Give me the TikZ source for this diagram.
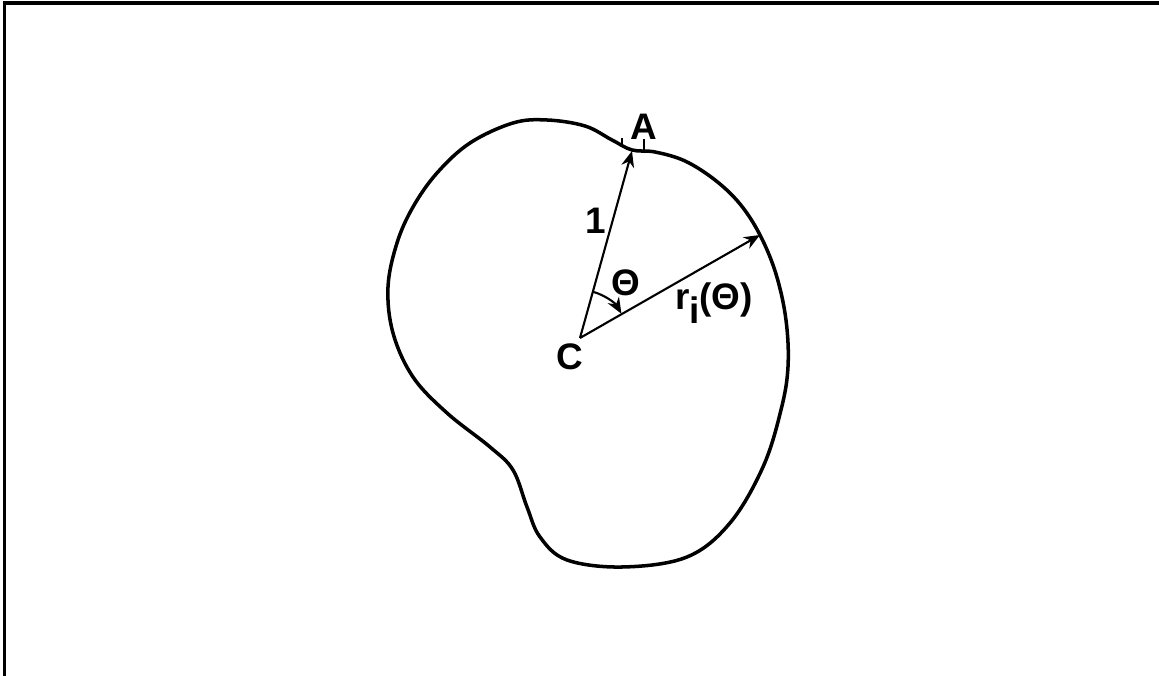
\documentclass[tikz,border=0pt]{standalone}
\usepackage{fontspec}
\setmainfont{Liberation Sans}
\usetikzlibrary{arrows.meta}

\begin{document}
\begin{tikzpicture}[x=1cm,y=1cm,line width=.6pt,font=\fontsize{10.5}{12}\selectfont\bfseries,
  lbl/.style={inner sep=1pt},
  radius arrow/.style={-{Stealth[length=1.6mm,width=1.3mm]}}]
\useasboundingbox (0,0) rectangle (11.59,6.76);
\draw[line width=1pt] (0.045,0)--(0.045,6.73)--(11.59,6.73);
% outline of the body
\draw[line width=1pt] plot[smooth cycle,tension=0.6] coordinates {
  (5.47,5.56) (5.85,5.50) (6.12,5.36) (6.32,5.26) (6.55,5.24) (6.85,5.15)
  (7.15,4.96) (7.40,4.72) (7.60,4.41) (7.76,4.02) (7.86,3.56) (7.88,3.09)
  (7.81,2.66) (7.63,2.09) (7.30,1.53) (6.87,1.19) (6.23,1.09) (5.67,1.16)
  (5.40,1.39) (5.27,1.69) (5.13,2.06) (4.90,2.29) (4.47,2.63) (4.13,2.99)
  (3.93,3.43) (3.88,3.89) (3.97,4.33) (4.13,4.69) (4.37,5.03) (4.70,5.33)
  (5.13,5.53)};
\coordinate (C) at (5.80,3.38);
\coordinate (A) at (6.32,5.25);
\coordinate (R) at (7.60,4.41);
\draw (6.22,5.30)--(6.22,5.38);
\draw (6.44,5.24)--(6.44,5.37);
\draw[radius arrow] (C)--(A);
\draw[radius arrow] (C)--(R);
\draw[radius arrow] ([shift={(74.4:0.48)}]C) arc[start angle=74.4,end angle=30.3,radius=0.48];
\node[lbl] (labA) at (6.44,5.49) {A};
\node[lbl] (labC) at (5.70,3.19) {C};
\node[lbl] (labone) at (5.96,4.55) {1};
\node[lbl] (labtheta) at (6.26,3.93) {Θ};
\node[lbl] (labr) at (7.14,3.73) {r\raisebox{-0.75ex}{i}(Θ)};
\end{tikzpicture}
\end{document}
